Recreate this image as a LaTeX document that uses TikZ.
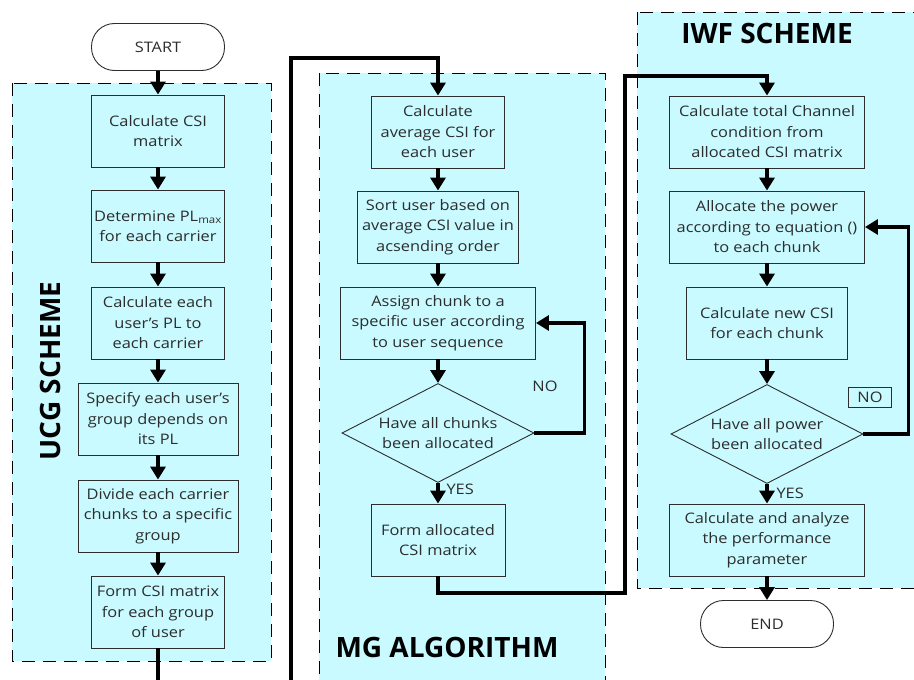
\documentclass[tikz,border=0pt]{standalone}
\usepackage{fontspec}
\setmainfont{Open Sans}[FakeStretch=1.13]
\newfontfamily\headfont{Open Sans}
\usetikzlibrary{shapes.geometric,arrows.meta}
\definecolor{panel}{RGB}{200,250,255}
\definecolor{ink}{RGB}{45,45,45}

\begin{document}
\begin{tikzpicture}[x=1pt,y=-1pt,
	box/.style={draw=ink, line width=0.9pt, fill=panel, align=center, text=ink, inner sep=1pt, minimum height=72pt, font=\fontsize{14.5}{20.5}\selectfont},
	decide/.style={box, shape=diamond, shape aspect=1.94, minimum width=192pt, minimum height=99pt, inner sep=0pt},
	term/.style={draw=ink, line width=0.9pt, rounded corners=23pt, minimum width=133pt, minimum height=47pt, text=ink, font=\fontsize{14.5}{17}\selectfont},
	flow/.style={line width=3.4pt, -{Triangle[width=15pt,length=13pt]}},
	panelbox/.style={draw, line width=1pt, dash pattern=on 13pt off 8pt, fill=panel},
	head/.style={font=\headfont\bfseries\fontsize{28}{30}\selectfont},
	note/.style={text=ink, font=\fontsize{14.5}{17}\selectfont}]
	\useasboundingbox (0,0) rectangle (914,680);
	% the three dashed panels
	\draw[panelbox] (12,83) rectangle (271,661);
	\draw[panelbox] (319,73) rectangle (605,700);
	\draw[panelbox] (637,12) rectangle (930,588);
	\node[head, rotate=90] (ucg) at (50,371) {UCG SCHEME};
	\node[head] (mg) at (447,647) {MG ALGORITHM};
	\node[head] (iwf) at (767,33) {IWF SCHEME};
	% UCG scheme
	\node[term] (start) at (158,47) {START};
	\node[box, minimum width=133pt] (u1) at (158,131) {Calculate CSI\\matrix};
	\node[box, minimum width=133pt] (u2) at (158,226) {Determine PL\textsubscript{max}\\for each carrier};
	\node[box, minimum width=133pt] (u3) at (158,323) {Calculate each\\user's PL to\\each carrier};
	\node[box, minimum width=160pt] (u4) at (158,419) {Specify each user's\\group depends on\\its PL};
	\node[box, minimum width=160pt] (u5) at (158,516) {Divide each carrier\\chunks to a specific\\group};
	\node[box, minimum width=133pt] (u6) at (158,612) {Form CSI matrix\\for each group\\of user};
	% MG algorithm
	\node[box, minimum width=133pt] (m1) at (438,132) {Calculate\\average CSI for\\each user};
	\node[box, minimum width=161pt] (m2) at (438,227) {Sort user based on\\average CSI value in\\acsending order};
	\node[box, minimum width=195pt] (m3) at (438,323) {Assign chunk to a\\specific user according\\to user sequence};
	\node[decide] (mq) at (438,433) {Have all chunks\\been allocated};
	\node[box, minimum width=134pt] (m4) at (438,540) {Form allocated\\CSI matrix};
	% IWF scheme
	\node[box, minimum width=195pt] (w1) at (767,132) {Calculate total Channel\\condition from\\allocated CSI matrix};
	\node[box, minimum width=195pt] (w2) at (767,227) {Allocate the power\\according to equation ()\\to each chunk};
	\node[box, minimum width=161pt] (w3) at (767,323) {Calculate new CSI\\for each chunk};
	\node[decide] (wq) at (767,434) {Have all power\\been allocated};
	\node[box, minimum width=195pt] (w4) at (767,540) {Calculate and analyze\\the performance\\parameter};
	\node[term] (stop) at (767,624) {END};
	% straight arrows
	\foreach \a/\b in {start/u1,u1/u2,u2/u3,u3/u4,u4/u5,u5/u6,m1/m2,m2/m3,m3/mq,mq/m4,w1/w2,w2/w3,w3/wq,wq/w4,w4/stop}
		\draw[flow] (\a.south) -- (\a.south |- \b.north);
	% jumps between the panels
	\coordinate (cornerA) at (291,700);
	\coordinate (turnA) at (291,58);
	\draw[flow] (u6.south) -- (u6.south |- cornerA) -- (cornerA) -- (turnA) -| (m1.north);
	\coordinate (cornerB) at (625,593);
	\coordinate (turnB) at (625,76);
	\draw[flow] (m4.south) |- (cornerB) -- (turnB) -| (w1.north);
	% loops back
	\draw[flow] (mq.east) -- ++(50,0) |- (m3.east);
	\draw[flow] (wq.east) -- ++(45,0) |- (w2.east);
	\node[note] (noA) at (545,386) {NO};
	\node[note, anchor=west] (yesA) at (443,489) {YES};
	\node[note, draw=ink, line width=0.8pt, inner sep=2pt, minimum width=43pt, minimum height=20pt] (noB) at (870,397) {NO};
	\node[note, anchor=west] (yesB) at (773,493) {YES};
\end{tikzpicture}
\end{document}
